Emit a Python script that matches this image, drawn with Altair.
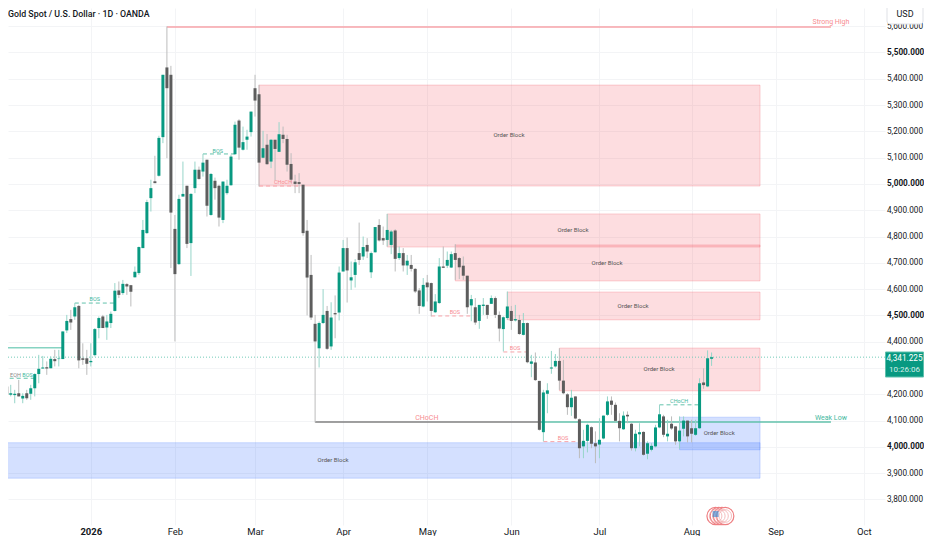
import altair as alt
import pandas as pd

FONT = "Roboto"

opens = [4204,4230,4198,4197,4204,4184,4204,4202,4223,4277,4298,4303,4299,4334,4334,4334,4443,4486,4496,4536,
4337,4337,4322,4349,4452,4496,4454,4471,4517,4595,4585,4619,4615,4645,4661,4756,4813,4946,5010,5031,
5178,5443,5415,4829,4695,4952,4993,4775,4984,5054,5047,5092,4882,5012,4993,4863,4965,4995,5113,5241,
5130,5168,5197,5364,5341,5100,5149,5085,5168,5122,5187,5171,5076,5009,5007,4997,4822,4654,4468,4375,
4471,4517,4382,4509,4511,4667,4756,4633,4654,4737,4724,4768,4664,4740,4844,4794,4787,4768,4823,4718,
4737,4690,4692,4677,4595,4534,4625,4623,4512,4547,4686,4689,4682,4737,4718,4689,4651,4538,4531,4479,
4536,4540,4544,4566,4502,4448,4490,4517,4481,4483,4426,4471,4316,4321,4251,4056,4202,4298,4306,4327,
4252,4200,4151,4192,4105,4002,4023,4075,4014,4009,4032,4122,4176,4160,4099,4067,4122,4088,3995,4048,
4057,3974,3989,4002,4074,4116,4040,4088,4078,4021,4069,4100,4071,4046,4071,4245,4230,4335]
highs = [4261,4255,4236,4217,4255,4204,4217,4236,4280,4350,4346,4325,4344,4369,4369,4439,4502,4521,4547,4540,
4394,4369,4394,4452,4496,4502,4502,4515,4623,4629,4635,4623,4616,4686,4762,4863,4940,5016,5107,5183,
5415,5599,5449,4882,4959,5085,4993,4965,5085,5066,5114,5092,5041,5024,4997,5009,5016,5111,5237,5246,
5218,5206,5275,5415,5377,5202,5190,5170,5168,5235,5218,5187,5117,5035,5041,4997,4863,4730,4502,4477,
4600,4536,4550,4576,4686,4787,4796,4705,4714,4853,4800,4794,4743,4836,4866,4838,4886,4825,4828,4762,
4756,4730,4730,4680,4604,4642,4654,4625,4581,4718,4762,4743,4743,4771,4722,4724,4651,4578,4566,4540,
4566,4540,4576,4572,4515,4496,4591,4536,4540,4502,4509,4473,4350,4359,4251,4217,4242,4365,4353,4375,
4331,4204,4217,4192,4108,4065,4088,4078,4059,4109,4119,4192,4192,4169,4128,4135,4135,4090,4065,4090,
4059,4021,4014,4084,4160,4122,4103,4116,4078,4116,4116,4100,4103,4103,4261,4299,4367,4359]
lows = [4166,4160,4192,4166,4192,4166,4179,4179,4192,4242,4298,4274,4299,4306,4306,4334,4433,4445,4483,4299,
4312,4274,4306,4344,4413,4452,4407,4452,4515,4566,4578,4578,4534,4644,4654,4756,4810,4895,5003,5028,
5155,5098,4680,4401,4692,4952,4756,4650,4965,5016,5028,4876,4879,4940,4838,4851,4959,4993,5111,5092,
5127,5130,5180,5256,4990,5098,5073,5060,5013,5122,5155,5047,5003,4965,4965,4803,4500,4483,4093,4302,
4468,4369,4369,4413,4481,4667,4549,4597,4606,4692,4711,4718,4642,4739,4781,4768,4762,4733,4667,4711,
4667,4654,4667,4585,4506,4531,4553,4496,4509,4544,4680,4680,4680,4635,4638,4635,4506,4478,4464,4449,
4502,4487,4544,4490,4401,4363,4483,4445,4477,4426,4424,4318,4265,4251,4062,4021,4128,4278,4302,4217,
4200,4122,4118,4105,3957,3957,3979,3995,3938,3957,4029,4118,4122,4097,4021,4065,4090,3986,3983,4002,
3967,3953,3983,3998,4071,4037,4021,4065,4008,3993,4040,4017,4017,4042,4069,4221,4227,4308]
closes = [4223,4198,4204,4202,4192,4194,4185,4223,4277,4297,4302,4298,4335,4326,4336,4439,4479,4473,4531,4329,
4331,4316,4327,4448,4490,4452,4477,4506,4594,4578,4620,4610,4590,4666,4760,4825,4931,4984,5003,5175,
5415,5364,4891,4657,4943,4962,4772,4962,5054,5019,5081,4917,5038,4984,4872,5009,4993,5104,5225,5138,
5159,5180,5275,5317,5081,5136,5075,5168,5133,5189,5171,5073,5016,5000,5000,4813,4644,4492,4401,4471,
4502,4373,4492,4504,4663,4756,4671,4645,4702,4711,4760,4743,4737,4836,4785,4785,4825,4819,4715,4737,
4690,4708,4677,4591,4536,4616,4607,4517,4553,4686,4681,4711,4733,4711,4683,4651,4531,4562,4473,4540,
4541,4502,4566,4502,4450,4493,4534,4479,4486,4429,4471,4322,4325,4254,4065,4207,4215,4302,4327,4252,
4204,4151,4187,4108,3995,4023,4084,4012,4002,4027,4119,4173,4160,4099,4071,4119,4116,3995,4050,4056,
3970,4014,4004,4074,4124,4046,4050,4070,4021,4062,4100,4040,4050,4071,4242,4235,4337,4341]

candles = pd.DataFrame({"i": list(range(len(opens))), "o": opens, "h": highs, "l": lows, "c": closes})
candles["top"] = candles[["o", "c"]].max(axis=1)
candles["bot"] = candles[["o", "c"]].min(axis=1)
candles["dir"] = ["up" if c >= o else "down" for o, c in zip(opens, closes)]

month_ticks = [22, 43, 63, 85, 106, 127, 149, 172, 193, 215]
month_names = ["2026", "Feb", "Mar", "Apr", "May", "Jun", "Jul", "Aug", "Sep", "Oct"]
price_ticks = list(range(3800, 5601, 100))
bold_prices = [4000, 4500, 5000, 5500]
last_price = 4341.225

red_zones = pd.DataFrame({"a": [64, 96, 113, 126, 139], "b": [189.1] * 5,
                          "t": [5376, 4886, 4768, 4589, 4376], "u": [4992, 4760, 4631, 4483, 4213]})
blue_zones = pd.DataFrame({"a": [169, 0], "b": [189.1, 189.1], "t": [4113, 4016], "u": [3989, 3881]})

solid_lines = pd.DataFrame({
    "a": [41, 78, 134, 0],
    "b": [206.8, 134, 206.8, 15],
    "p": [5597, 4095, 4095, 4377],
    "k": ["red", "grey", "green", "green2"]})
dashed_lines = pd.DataFrame({
    "a": [0, 18, 50, 164, 64, 107, 125, 135],
    "b": [8, 28, 58, 174, 74, 117, 131, 144],
    "p": [4261, 4547, 5114, 4160, 4992, 4498, 4361, 4020],
    "k": ["green"] * 4 + ["red"] * 4})

ob_labels = pd.DataFrame({"i": [126.4, 142.4, 150.9, 157.4, 163.9, 178.9, 82.5],
                          "p": [5186, 4825, 4700, 4536, 4297, 4053, 3951]})
small_labels = pd.DataFrame({
    "t": ["EQH", "BOS", "BOS", "BOS", "CHoCH", "CHoCH", "BOS", "BOS", "BOS"],
    "i": [3.2, 6.2, 23, 53.7, 168.9, 70, 112.9, 127.9, 139.9],
    "p": [4274, 4274, 4563, 5125, 4175, 5008, 4513, 4376, 4034],
    "k": ["grey", "green", "green", "green", "green", "red", "red", "red", "red"]})
big_labels = pd.DataFrame({
    "t": ["Strong High", "Weak Low", "CHoCH"],
    "i": [206.8, 206.8, 105.9],
    "p": [5616, 4110, 4110],
    "k": ["red", "green", "red"]})

icon_positions = pd.DataFrame({"i": [178, 178.8, 179.6, 180.4]})

xs = alt.Scale(domain=[1.32, 220.3], nice=False, zero=False, padding=0)
ys = alt.Scale(domain=[3703, 5669], nice=False, zero=False, padding=0)
colors = alt.Scale(domain=["red", "grey", "green", "green2"],
                   range=["#f7a3a8", "#808080", "#62c2ab", "#86d3c2"])
textcolors = alt.Scale(domain=["red", "grey", "green"], range=["#f78b90", "#8a8a8a", "#3fb89e"])

label_map = "{" + ",".join(f"{t}:'{n}'" for t, n in zip(month_ticks, month_names)) + "}"
x_axis = alt.Axis(values=month_ticks, labelExpr=f"{label_map}[datum.value]", title=None, grid=True,
                  gridColor="#f3f4f6", ticks=False, domain=False, labelFont=FONT, labelFontSize=9.5,
                  labelColor="#131722", labelPadding=1, labelOverlap=False, labelFlush=False,
                  labelFontWeight={"condition": {"test": "datum.value==22", "value": "bold"}, "value": "normal"})
bold_test = " || ".join(f"datum.value=={b}" for b in bold_prices)
y_axis = alt.Axis(values=price_ticks, orient="right", format=",.3f", title=None, grid=True, gridColor="#f3f4f6",
                  ticks=False, domain=False, labelFont=FONT, labelFontSize=8.2, labelColor="#131722",
                  labelPadding=1.5, labelOverlap=False, labelFlush=False,
                  labelExpr="datum.value==4300 ? '' : datum.label",
                  labelFontWeight={"condition": {"test": bold_test, "value": "bold"}, "value": "normal"})

X = lambda f="i": alt.X(f"{f}:Q", scale=xs, axis=x_axis)
Y = lambda f: alt.Y(f"{f}:Q", scale=ys, axis=y_axis)


def zones(df, fill, edge, opacity):
    return alt.Chart(df).mark_rect(fill=fill, fillOpacity=opacity, stroke=edge, strokeOpacity=0.2,
                                   strokeWidth=1, clip=True).encode(
        x=X("a"), x2="b:Q", y=Y("t"), y2="u:Q")


red = zones(red_zones, "#f23645", "#f23645", 0.17)
blue = zones(blue_zones, "#2962ff", "#2962ff", 0.2)

now_line = alt.Chart(pd.DataFrame({"p": [last_price]})).mark_rule(
    color="#74cbb8", strokeDash=[1, 2], strokeWidth=1).encode(y=Y("p"))

dashed = alt.Chart(dashed_lines).mark_rule(strokeDash=[4, 3], strokeWidth=1, clip=True).encode(
    x=X("a"), x2="b:Q", y=Y("p"), color=alt.Color("k:N", scale=colors, legend=None))
solid = alt.Chart(solid_lines).mark_rule(strokeWidth=1.5, clip=True).encode(
    x=X("a"), x2="b:Q", y=Y("p"), color=alt.Color("k:N", scale=colors, legend=None))

wicks = alt.Chart(candles).mark_rule(strokeWidth=1, clip=True).encode(
    x=X(), y=Y("h"), y2="l:Q",
    color=alt.Color("dir:N", scale=alt.Scale(domain=["up", "down"], range=["#97d5c9", "#bcbcbc"]), legend=None))
bodies = alt.Chart(candles).mark_bar(size=3, clip=True).encode(
    x=X(), y=Y("top"), y2="bot:Q",
    color=alt.Color("dir:N", scale=alt.Scale(domain=["up", "down"], range=["#089981", "#5d5d5d"]), legend=None))

ob_text = alt.Chart(ob_labels).mark_text(text="Order Block", font=FONT, fontSize=6, color="#555555").encode(
    x=X(), y=Y("p"))
small_text = alt.Chart(small_labels).mark_text(font=FONT, fontSize=5.5).encode(
    x=X(), y=Y("p"), text="t:N", color=alt.Color("k:N", scale=textcolors, legend=None))
big_text = alt.Chart(big_labels).mark_text(font=FONT, fontSize=7).encode(
    x=X(), y=Y("p"), text="t:N", color=alt.Color("k:N", scale=textcolors, legend=None))

title = alt.Chart(pd.DataFrame({"t": ["Gold Spot / U.S. Dollar · 1D · OANDA"]})).mark_text(
    align="left", font=FONT, fontSize=8.8, fontWeight=500, color="#131722").encode(
    x=alt.value(0), y=alt.value(6), text="t:N")

one = pd.DataFrame({"a": [0]})
tag = alt.Chart(one).mark_rect(fill="#089981", stroke="#5fc0ad", strokeWidth=1).encode(
    x=alt.value(877.5), x2=alt.value(915.5), y=alt.value(344), y2=alt.value(369))
tag_price = alt.Chart(one).mark_text(text="4,341.225", font=FONT, fontSize=8.2, color="white").encode(
    x=alt.value(896.5), y=alt.value(350.5))
tag_time = alt.Chart(one).mark_text(text="10:26:06", font=FONT, fontSize=8, color="#d5efe9").encode(
    x=alt.value(896.5), y=alt.value(362))
usd_box = alt.Chart(one).mark_rect(fill="white", stroke="#dfe1e6", cornerRadius=3).encode(
    x=alt.value(879), x2=alt.value(915), y=alt.value(-6), y2=alt.value(16))
usd_text = alt.Chart(one).mark_text(text="USD", font=FONT, fontSize=9, color="#131722").encode(
    x=alt.value(897), y=alt.value(6))

icons = alt.Chart(icon_positions).mark_point(filled=True, fill="white", stroke="#ee7f82", strokeWidth=1.2,
                                             size=300, opacity=1).encode(x=X(), y=alt.value(508))
icons_inner = alt.Chart(icon_positions).mark_point(filled=False, stroke="#f2a3a5", strokeWidth=1, size=160).encode(
    x=X(), y=alt.value(508))
flag = alt.Chart(icon_positions.head(1)).mark_square(color="#4a8fd0", size=36).encode(x=X(), y=alt.value(506))

chart = alt.layer(
    red, blue, now_line, dashed, solid, wicks, bodies, ob_text, small_text, big_text,
    icons, icons_inner, flag, title, tag, tag_price, tag_time, usd_box, usd_text
).resolve_scale(color="independent").properties(
    width=877, height=517, autosize=alt.AutoSizeParams(type="none"),
    padding={"left": 0, "top": 0, "right": 39, "bottom": 11}, background="white"
).configure_view(stroke=None)

chart.save("out.html", embed_options={"renderer": "svg", "actions": False})
